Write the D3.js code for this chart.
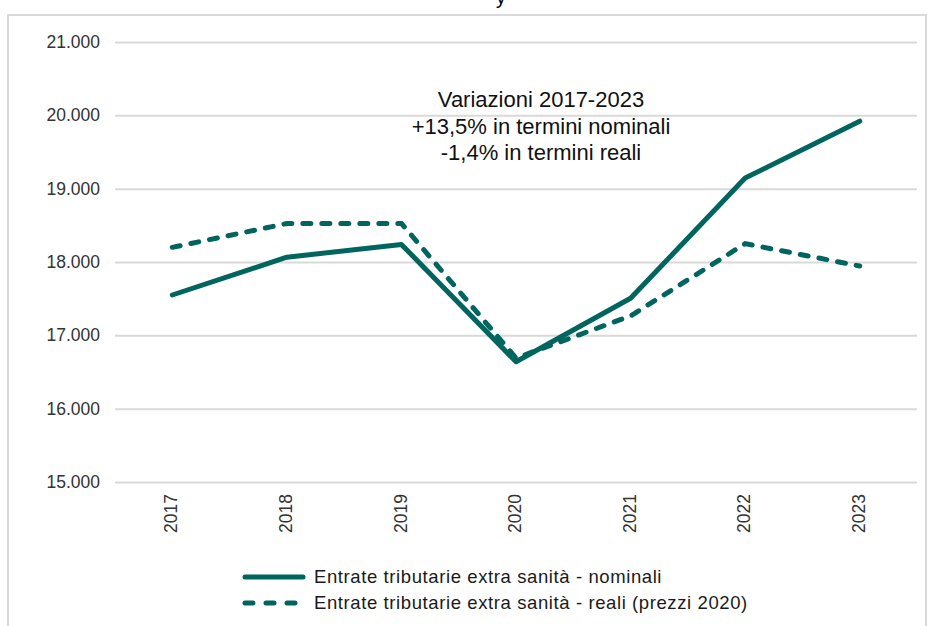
<!DOCTYPE html>
<html>
<head>
<meta charset="utf-8">
<script src="https://cdn.jsdelivr.net/npm/d3@7"></script>
<style>
  body { margin: 0; background: #fff; }
  svg { display: block; font-family: "Liberation Sans", Arial, sans-serif; }
</style>
</head>
<body>
<script>
const width = 931;
const height = 626;

const years = ["2017", "2018", "2019", "2020", "2021", "2022", "2023"];
const nominali = [17550, 18065, 18240, 16640, 17505, 19145, 19920];
const reali = [18200, 18525, 18525, 16690, 17265, 18250, 17945];
const yTicks = [15000, 16000, 17000, 18000, 19000, 20000, 21000];
const noteLines = ["Variazioni 2017-2023", "+13,5% in termini nominali", "-1,4% in termini reali"];
const legendLabels = [
  "Entrate tributarie extra sanità - nominali",
  "Entrate tributarie extra sanità - reali (prezzi 2020)",
];

const teal = "#00645f";
const grid = "#d9d9d9";

const svg = d3.select("body").append("svg")
  .attr("width", width)
  .attr("height", height);

// frame of the chart area
svg.append("rect")
  .attr("x", 8).attr("y", 15)
  .attr("width", 918).attr("height", 640)
  .attr("fill", "none")
  .attr("stroke", grid)
  .attr("stroke-width", 2);

// cut-off title descender at the top
svg.append("text")
  .attr("x", 496).attr("y", 4)
  .attr("font-size", 20)
  .attr("fill", "#000")
  .text("y");

const xScale = d3.scaleBand().domain(years).range([115, 917]);
const yScale = d3.scaleLinear().domain([15000, 21000]).range([482, 42]);

const fmt = (d) => d3.format(",")(d).replace(/,/g, ".");

const yAxis = d3.axisLeft(yScale)
  .tickValues(yTicks)
  .tickSize(-(917 - 115))
  .tickPadding(15)
  .tickFormat(fmt);

const gy = svg.append("g")
  .attr("transform", "translate(115,0)")
  .call(yAxis);
gy.select(".domain").remove();
gy.selectAll(".tick line").attr("stroke", grid).attr("stroke-width", 2);
gy.selectAll(".tick text")
  .attr("font-size", 17.5)
  .attr("fill", "#333");

const xAxis = d3.axisBottom(xScale).tickSize(0).tickPadding(0);
const gx = svg.append("g")
  .attr("transform", "translate(0,482)")
  .call(xAxis);
gx.select(".domain").remove();
gx.selectAll(".tick text")
  .attr("font-size", 17.5)
  .attr("fill", "#333")
  .attr("text-anchor", "end")
  .attr("transform", "translate(-1,12) rotate(-90)")
  .attr("dy", "0.35em")
  .attr("y", 0);

const line = d3.line()
  .x((d, i) => xScale(years[i]) + xScale.bandwidth() / 2)
  .y((d) => yScale(d));

svg.append("path")
  .datum(reali)
  .attr("d", line)
  .attr("fill", "none")
  .attr("stroke", teal)
  .attr("stroke-width", 5)
  .attr("stroke-linecap", "round")
  .attr("stroke-dasharray", "8,11");

svg.append("path")
  .datum(nominali)
  .attr("d", line)
  .attr("fill", "none")
  .attr("stroke", teal)
  .attr("stroke-width", 5)
  .attr("stroke-linecap", "round")
  .attr("stroke-linejoin", "round");

// annotation
svg.append("g")
  .selectAll("text")
  .data(noteLines)
  .enter()
  .append("text")
  .attr("x", 541)
  .attr("y", (d, i) => 107 + i * 26.5)
  .attr("text-anchor", "middle")
  .attr("font-size", 22)
  .attr("fill", "#111")
  .text((d) => d);

// legend
const legend = svg.append("g");
legendLabels.forEach((label, i) => {
  const y = 577 + i * 26;
  legend.append("line")
    .attr("x1", 245).attr("x2", 303)
    .attr("y1", y).attr("y2", y)
    .attr("stroke", teal)
    .attr("stroke-width", 5)
    .attr("stroke-linecap", "round")
    .attr("stroke-dasharray", i === 1 ? "8,13" : null);
  legend.append("text")
    .attr("x", 314)
    .attr("y", y)
    .attr("dy", "0.35em")
    .attr("font-size", 18.5)
    .attr("letter-spacing", 0.6)
    .attr("fill", "#1a1a1a")
    .text(label);
});
</script>
</body>
</html>
